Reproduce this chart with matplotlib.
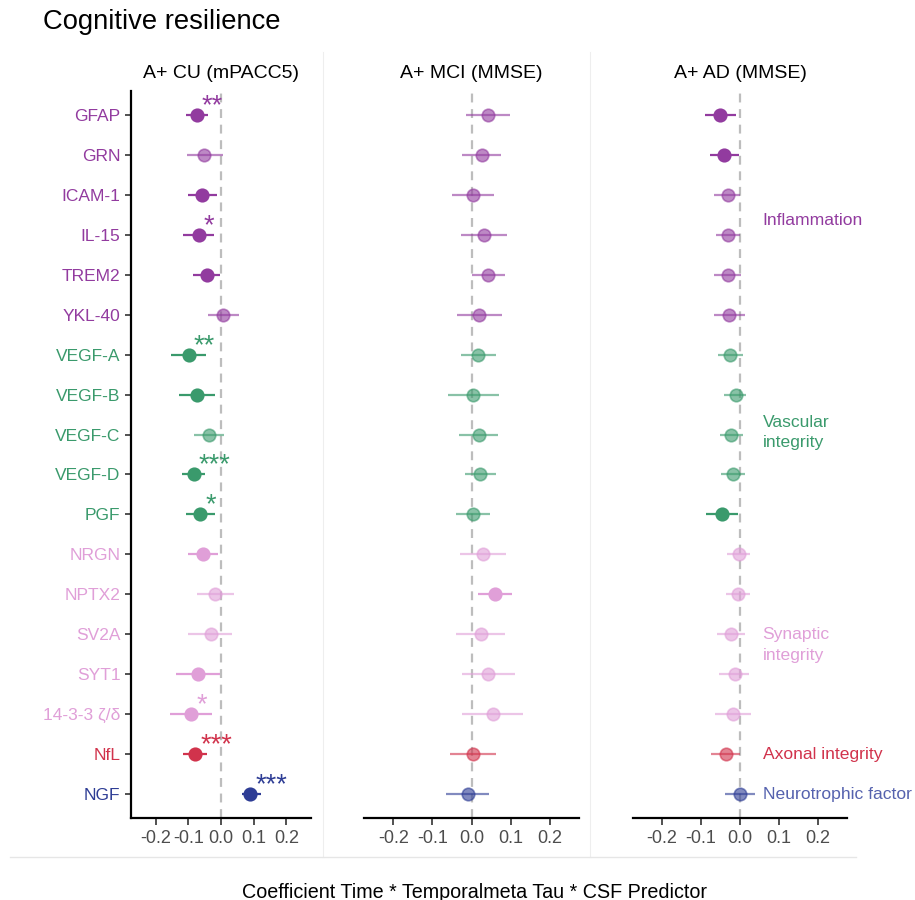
import matplotlib
matplotlib.use("Agg")
import matplotlib.pyplot as plt
from matplotlib.lines import Line2D

plt.rcParams['font.family'] = ['Liberation Sans', 'DejaVu Sans']

# ========== Data ==========
markers = ["GFAP", "GRN", "ICAM-1", "IL-15", "TREM2", "YKL-40",
           "VEGF-A", "VEGF-B", "VEGF-C", "VEGF-D", "PGF",
           "NRGN", "NPTX2", "SV2A", "SYT1", "14-3-3 ζ/δ",
           "NfL", "NGF"]
groups = ["Inflammation"] * 6 + ["Vascular"] * 5 + ["Synaptic"] * 5 + ["Axonal", "Neurotrophic"]

panel_titles = ["A+ CU (mPACC5)", "A+ MCI (MMSE)", "A+ AD (MMSE)"]

cu_est = [-0.074, -0.052, -0.057, -0.068, -0.044, 0.007,
          -0.099, -0.072, -0.036, -0.084, -0.064,
          -0.056, -0.018, -0.031, -0.069, -0.091,
          -0.079, 0.090]
cu_lo = [-0.107, -0.104, -0.102, -0.116, -0.086, -0.039,
         -0.152, -0.127, -0.082, -0.120, -0.107,
         -0.102, -0.074, -0.101, -0.137, -0.155,
         -0.115, 0.063]
cu_hi = [-0.039, 0.005, -0.011, -0.020, -0.002, 0.056,
         -0.047, -0.018, 0.010, -0.048, -0.018,
         -0.009, 0.039, 0.035, -0.003, -0.028,
         -0.044, 0.121]
cu_sig = [1, 0, 1, 1, 1, 0, 1, 1, 0, 1, 1, 1, 0, 0, 1, 1, 1, 1]
cu_stars = ["**", "", "", "*", "", "", "**", "", "", "***", "*",
            "", "", "", "", "*", "***", "***"]

mci_est = [0.041, 0.026, 0.003, 0.033, 0.043, 0.020,
           0.017, 0.005, 0.018, 0.021, 0.004,
           0.030, 0.060, 0.024, 0.041, 0.054,
           0.005, -0.010]
mci_lo = [-0.015, -0.024, -0.050, -0.026, 0.000, -0.038,
          -0.026, -0.059, -0.031, -0.017, -0.039,
          -0.030, 0.016, -0.039, -0.025, -0.025,
          -0.055, -0.066]
mci_hi = [0.098, 0.075, 0.057, 0.090, 0.086, 0.078,
          0.062, 0.070, 0.067, 0.062, 0.048,
          0.088, 0.104, 0.086, 0.110, 0.131,
          0.063, 0.046]
mci_sig = [0, 0, 0, 0, 0, 0, 0, 0, 0, 0, 0, 0, 1, 0, 0, 0, 0, 0]

ad_est = [-0.051, -0.040, -0.031, -0.031, -0.032, -0.029,
          -0.026, -0.011, -0.022, -0.017, -0.047,
          -0.003, -0.004, -0.024, -0.014, -0.017,
          -0.035, 0.000]
ad_lo = [-0.089, -0.077, -0.066, -0.062, -0.068, -0.068,
         -0.056, -0.040, -0.052, -0.049, -0.087,
         -0.034, -0.035, -0.059, -0.054, -0.065,
         -0.074, -0.039]
ad_hi = [-0.011, -0.003, -0.001, 0.000, 0.003, 0.012,
         0.007, 0.016, 0.008, 0.014, -0.006,
         0.025, 0.026, 0.012, 0.024, 0.028,
         0.001, 0.038]
ad_sig = [1, 1, 0, 0, 0, 0, 0, 0, 0, 0, 1, 0, 0, 0, 0, 0, 0, 0]

group_names = ["Inflammation", "Vascular", "Synaptic", "Axonal", "Neurotrophic"]
group_labels = ["Inflammation", "Vascular\nintegrity", "Synaptic\nintegrity",
                "Axonal integrity", "Neurotrophic factor"]

group_colors = {"Inflammation": "#923B9F", "Vascular": "#3A9A6C",
                "Synaptic": "#E09FD8", "Axonal": "#D1334C",
                "Neurotrophic": "#2E3D95"}
group_label_colors = {"Inflammation": "#923B9F", "Vascular": "#3A9A6C",
                      "Synaptic": "#E09FD8", "Axonal": "#D1334C",
                      "Neurotrophic": "#5562AE"}
# small vertical nudges (in rows) for the group labels
label_nudge = {"Inflammation": 0.15, "Vascular": -0.05, "Synaptic": 0.27,
               "Axonal": 0.0, "Neurotrophic": 0.0}

# ========== Figure ==========
W, H = 915, 900
fig = plt.figure(figsize=(W / 100, H / 100), dpi=100)

def px_axes(x0, x1, y0, y1):
    return fig.add_axes([x0 / W, 1 - y1 / H, (x1 - x0) / W, (y1 - y0) / H])

ax_boxes = [(131, 311), (364, 579), (633, 847)]
panels = [(cu_est, cu_lo, cu_hi, cu_sig), (mci_est, mci_lo, mci_hi, mci_sig),
          (ad_est, ad_lo, ad_hi, ad_sig)]
rows = list(range(len(markers)))
tick_gray = "#4D4D4D"

axes = []
for k, ((x0, x1), (est, lo, hi, sig)) in enumerate(zip(ax_boxes, panels)):
    ax = px_axes(x0, x1, 91, 818)
    axes.append(ax)
    ax.axvline(0, color="#BDBDBD", lw=1.6, ls=(0, (4, 3)), zorder=1)
    for i in rows:
        c = group_colors[groups[i]]
        a = 1.0 if sig[i] else 0.6
        ax.plot([lo[i], hi[i]], [i, i], color=c, lw=1.6, alpha=a,
                solid_capstyle="butt", zorder=2)
        ax.plot(est[i], i, "o", color=c, ms=9, mew=1.2, alpha=a, zorder=3)
    ax.set_xlim(-0.275, 0.275)
    ax.set_ylim(17.6, -0.6)
    ax.set_xticks([-0.2, -0.1, 0.0, 0.1, 0.2])
    ax.set_xticklabels(["-0.2", "-0.1", "0.0", "0.1", "0.2"])
    ax.tick_params(axis="x", colors="#333333", labelcolor=tick_gray,
                   labelsize=13, length=5, width=1.2)
    for s in ["top", "right"]:
        ax.spines[s].set_visible(False)
    ax.spines["bottom"].set_linewidth(1.6)
    ax.set_title(panel_titles[k], fontsize=14, pad=9)
    if k == 0:
        ax.spines["left"].set_linewidth(1.6)
        ax.set_yticks(rows)
        ax.set_yticklabels(markers)
        ax.tick_params(axis="y", colors="#333333", labelsize=12.5, length=4, width=1.2)
        for lab, g in zip(ax.get_yticklabels(), groups):
            lab.set_color(group_colors[g])
    else:
        ax.spines["left"].set_visible(False)
        ax.set_yticks([])

# significance stars on the CU panel
for i, st in enumerate(cu_stars):
    if st:
        axes[0].text(cu_est[i] + 0.016, i - 0.22, st, color=group_colors[groups[i]],
                     fontsize=19.5, ha="left", va="center")

# group labels to the right of the AD panel
for g, lab in zip(group_names, group_labels):
    idx = [i for i in rows if groups[i] == g]
    yc = sum(idx) / len(idx) + label_nudge[g]
    axes[2].text(0.058, yc, lab, color=group_label_colors[g], fontsize=12.6,
                 ha="left", va="center", clip_on=False, linespacing=1.45)

# faint panel borders
fig.add_artist(Line2D([322.5 / W, 322.5 / W], [1 - 52 / H, 1 - 857 / H], color="#EEEEEE", lw=0.8))
fig.add_artist(Line2D([590 / W, 590 / W], [1 - 52 / H, 1 - 857 / H], color="#EEEEEE", lw=0.8))
fig.add_artist(Line2D([10 / W, 856 / W], [1 - 857 / H, 1 - 857 / H], color="#E6E6E6", lw=1.0))

fig.text(43 / W, 1 - 22 / H, "Cognitive resilience", fontsize=19.7, ha="left", va="center")
fig.text(475 / W, 1 - 892 / H, "Coefficient Time * Temporalmeta Tau * CSF Predictor",
         fontsize=14.2, ha="center", va="center")

fig.savefig("out.png", dpi=100)
